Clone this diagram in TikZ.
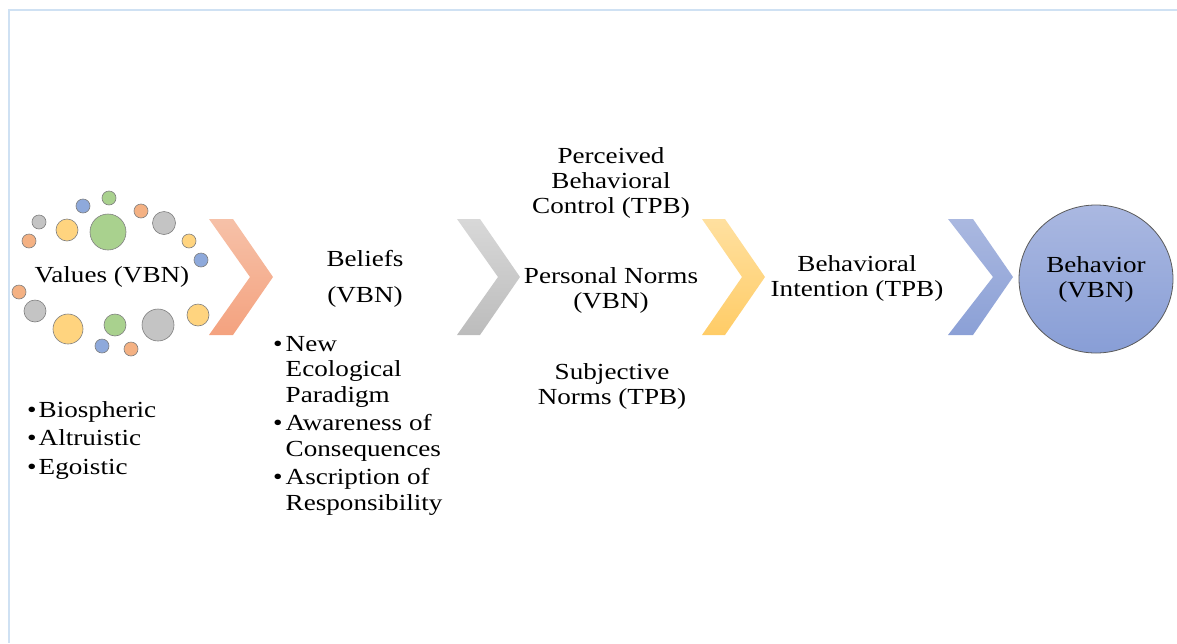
\documentclass[tikz,border=0pt]{standalone}
\usepackage{fontspec}
\setmainfont{Liberation Serif}[FakeStretch=1.18]
\usetikzlibrary{shapes.geometric}

\definecolor{framecol}{HTML}{CFE1F3}
\definecolor{vgray}{HTML}{C4C4C4}
\definecolor{vyellow}{HTML}{FFD47F}
\definecolor{vgreen}{HTML}{A9D18E}
\definecolor{vblue}{HTML}{8EA9DB}
\definecolor{vorange}{HTML}{F4B183}
\definecolor{rimcol}{HTML}{7F7F7F}

\begin{document}
\begin{tikzpicture}[x=1pt,y=-1pt,
		bubble/.style={draw=rimcol,line width=0.6pt},
		txt/.style={align=center,inner sep=0pt,font=\fontsize{23}{25}\selectfont},
		listtxt/.style={anchor=north west,inner sep=0pt}]
		\useasboundingbox (0,0) rectangle (1177,643);
		
		% frame
		\draw[framecol, line width=2pt] (8,10) -- (1177,10);
		\draw[framecol, line width=2pt] (9,10) -- (9,643);
		
		% bubbles round the values
		\draw[bubble, fill=vgreen] (109,198) circle (7pt);
		\draw[bubble, fill=vblue] (83,206) circle (7pt);
		\draw[bubble, fill=vorange] (141,211) circle (7pt);
		\draw[bubble, fill=vgray] (39,222) circle (7pt);
		\draw[bubble, fill=vyellow] (67,230) circle (11pt);
		\draw[bubble, fill=vgreen] (108,232) circle (18pt);
		\draw[bubble, fill=vgray] (164,223) circle (11.5pt);
		\draw[bubble, fill=vorange] (29,241) circle (7pt);
		\draw[bubble, fill=vyellow] (189,241) circle (7pt);
		\draw[bubble, fill=vblue] (201,260) circle (7pt);
		\draw[bubble, fill=vorange] (19,292) circle (7pt);
		\draw[bubble, fill=vgray] (35,311) circle (11pt);
		\draw[bubble, fill=vyellow] (68,329) circle (15pt);
		\draw[bubble, fill=vgreen] (115,325) circle (11pt);
		\draw[bubble, fill=vgray] (158,325) circle (16pt);
		\draw[bubble, fill=vyellow] (198,315) circle (11pt);
		\draw[bubble, fill=vblue] (102,346) circle (7pt);
		\draw[bubble, fill=vorange] (131,349) circle (7pt);
		
		% chevrons
		\shade[top color={rgb,255:red,246;green,193;blue,168}, bottom color={rgb,255:red,244;green,162;blue,127}]
			(209,219) -- (233,219) -- (273,277) -- (233,335) -- (209,335) -- (250,277) -- cycle;
		\shade[top color={rgb,255:red,216;green,216;blue,216}, bottom color={rgb,255:red,188;green,188;blue,188}]
			(457,219) -- (480,219) -- (520,277) -- (480,335) -- (457,335) -- (498,277) -- cycle;
		\shade[top color={rgb,255:red,255;green,224;blue,160}, bottom color={rgb,255:red,255;green,204;blue,102}]
			(702,219) -- (725,219) -- (765,277) -- (725,335) -- (702,335) -- (742,277) -- cycle;
		\shade[top color={rgb,255:red,170;green,184;blue,224}, bottom color={rgb,255:red,139;green,160;blue,214}]
			(948,219) -- (973,219) -- (1013,277) -- (973,335) -- (948,335) -- (993,277) -- cycle;
		
		% behaviour circle
		\node[ellipse, draw={rgb,255:red,90;green,90;blue,90}, line width=0.8pt,
			top color={rgb,255:red,170;green,184;blue,225}, bottom color={rgb,255:red,136;green,158;blue,214},
			minimum width=154pt, minimum height=148pt, inner sep=0pt,
			align=center, font=\fontsize{23}{25}\selectfont] (behavior) at (1096,279) {Behavior\\(VBN)};
		
		% labels
		\node[txt] (values) at (112,277) {Values (VBN)};
		\node[txt] (beliefs) at (365,279) {Beliefs\\[11pt](VBN)};
		\node[txt] (pbc) at (611,183) {Perceived\\Behavioral\\Control (TPB)};
		\node[txt] (pnorms) at (611,290) {Personal Norms\\(VBN)};
		\node[txt] (snorms) at (612,386) {Subjective\\Norms (TPB)};
		\node[txt] (intention) at (857,278) {Behavioral\\Intention (TPB)};
		
		% bullet lists
		\node[listtxt, font=\fontsize{23}{28.5}\selectfont] (valuelist) at (27,397)
			{\begin{tabular}{@{}l@{\hspace{2pt}}l@{}}
				\textbullet & Biospheric\\
				\textbullet & Altruistic\\
				\textbullet & Egoistic
			\end{tabular}};
		\node[listtxt, font=\fontsize{23}{25.5}\selectfont] (belieflist) at (273,333)
			{\begin{tabular}{@{}l@{\hspace{3pt}}l@{}}
				\textbullet & New\\
				& Ecological\\
				& Paradigm\\[3pt]
				\textbullet & Awareness of\\
				& Consequences\\[3pt]
				\textbullet & Ascription of\\
				& Responsibility
			\end{tabular}};
	\end{tikzpicture}
\end{document}
